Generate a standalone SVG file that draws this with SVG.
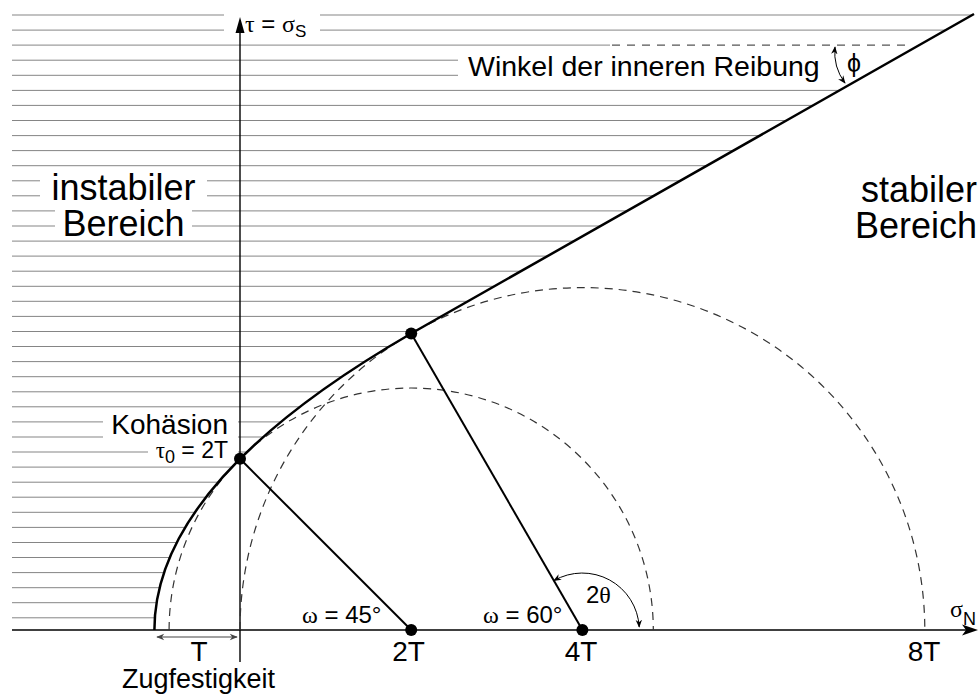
<svg xmlns="http://www.w3.org/2000/svg" width="980" height="696" viewBox="0 0 980 696">
<style>
text{font-family:"Liberation Sans",Arial,sans-serif;fill:#000}
.g{font-family:"Liberation Serif","Times New Roman",serif}
.h{stroke:#858585;stroke-width:1;fill:none}
.ax{stroke:#000;stroke-width:1.4;fill:none}
.env{stroke:#000;stroke-width:2.5;fill:none}
.dia{stroke:#000;stroke-width:2;fill:none}
.dc{stroke:#333;stroke-width:1.2;fill:none;stroke-dasharray:8 6}
.thin{stroke:#000;stroke-width:1;fill:none}
</style>
<defs>
<marker id="ah" viewBox="0 0 10 10" refX="9" refY="5" markerWidth="8" markerHeight="8" markerUnits="userSpaceOnUse" orient="auto-start-reverse">
<path d="M0,1 L10,5 L0,9 L3,5 z" fill="#000"/>
</marker>
<marker id="ahg" viewBox="0 0 10 10" refX="9" refY="5" markerWidth="10" markerHeight="8" markerUnits="userSpaceOnUse" orient="auto-start-reverse">
<path d="M0,1 L10,5 L0,9 L3,5 z" fill="#444"/>
</marker>
</defs>
<g id="hatch">
<path class="h" d="M12 15H224M320 15H972.2
M12 30.1H224M320 30.1H945.7
M12 45.1H610
M12 60.2H458
M12 75.3H458
M12 90.4H839.5
M12 105.4H813
M12 120.5H786.4
M12 135.6H759.9
M12 150.6H733.3
M12 165.7H706.8
M12 180.8H40M207 180.8H680.2
M12 195.8H40M207 195.8H653.7
M12 210.9H55M192 210.9H627.1
M12 226H55M192 226H600.6
M12 241.1H574.1
M12 256.1H547.5
M12 271.2H521
M12 286.3H494.4
M12 301.3H467.9
M12 316.4H441.3
M12 331.5H414.8
M12 346.5H389.1
M12 361.6H364.8
M12 376.7H341.8
M12 391.8H320.2
M12 406.8H299.9
M12 421.9H103M238 421.9H280.9
M12 437H103M238 437H263.2
M12 452H148M238 452H246.9
M12 467.1H231.9
M12 482.2H218.2
M12 497.2H205.9
M12 512.3H194.9
M12 527.4H185.2
M12 542.5H176.8
M12 557.5H169.7
M12 572.6H164
M12 587.7H159.6
M12 602.7H156.6
M12 617.8H154.8"/>
<path d="M612 45.1H912" stroke="#555" stroke-width="1.2" stroke-dasharray="8 7" fill="none"/>
</g>
<g id="axes">
<line class="ax" x1="240" y1="30" x2="240" y2="662"/>
<polygon points="240,17 235.5,33 244.5,33" fill="#000"/>
<line class="ax" x1="12" y1="630" x2="966" y2="630" stroke-width="1.6"/>
<polygon points="978,630 962,624.5 966,630 962,635.5" fill="#000"/>
</g>
<g id="circles">
<path class="dc" d="M169.1 630A242.1 242.1 0 0 1 653.3 630"/>
<path class="dc" d="M240 630A342.4 342.4 0 0 1 924.8 630"/>
</g>
<g id="envelope">
<path class="env" d="M154.4 630Q154.4 481.8 411.2 333.5L974 14"/>
</g>
<g id="connectors">
<line class="dia" x1="240" y1="458.8" x2="411.2" y2="630"/>
<line class="dia" x1="411.2" y1="333.5" x2="582.4" y2="630"/>
<path class="thin" d="M553.9 580.6A57 57 0 0 1 639.2 627" marker-start="url(#ah)" marker-end="url(#ah)"/>
<path class="thin" d="M835 47Q833 67 845 83" marker-start="url(#ah)" marker-end="url(#ah)"/>
<line x1="157" y1="637" x2="237" y2="637" stroke="#444" stroke-width="1.2" marker-start="url(#ahg)" marker-end="url(#ahg)"/>
</g>
<g id="points">
<circle cx="240" cy="458.8" r="6"/>
<circle cx="411.2" cy="333.5" r="6"/>
<circle cx="411.2" cy="630" r="6"/>
<circle cx="582.4" cy="630" r="6"/>
</g>
<g id="labels">
<text x="245" y="32" font-size="24"><tspan class="g">τ</tspan> = <tspan class="g">σ</tspan><tspan font-size="17" dy="5">S</tspan></text>
<text x="468" y="76" font-size="28.5">Winkel der inneren Reibung</text>
<text x="847" y="72" font-size="25" font-family="DejaVu Serif, serif">ϕ</text>
<text x="123.5" y="200" font-size="36" text-anchor="middle">instabiler</text>
<text x="123.5" y="236" font-size="36" text-anchor="middle">Bereich</text>
<text x="977" y="202" font-size="36" text-anchor="end">stabiler</text>
<text x="977" y="238" font-size="36" text-anchor="end">Bereich</text>
<text x="228" y="434" font-size="28" text-anchor="end">Kohäsion</text>
<text x="228" y="458" font-size="23" text-anchor="end"><tspan class="g">τ</tspan><tspan font-size="18" dy="5">0</tspan><tspan dy="-5"> = 2T</tspan></text>
<text x="302" y="623" font-size="24"><tspan class="g">ω</tspan> = 45°</text>
<text x="483" y="623" font-size="24"><tspan class="g">ω</tspan> = 60°</text>
<text x="586" y="603" font-size="24">2<tspan class="g">θ</tspan></text>
<text x="950" y="617" font-size="24"><tspan class="g">σ</tspan><tspan font-size="18" dy="8">N</tspan></text>
<text x="199" y="661" font-size="28" text-anchor="middle">T</text>
<text x="408.5" y="661" font-size="28" text-anchor="middle">2T</text>
<text x="581" y="661" font-size="28" text-anchor="middle">4T</text>
<text x="924" y="661" font-size="28" text-anchor="middle">8T</text>
<text x="122" y="688" font-size="27">Zugfestigkeit</text>
</g>
</svg>
